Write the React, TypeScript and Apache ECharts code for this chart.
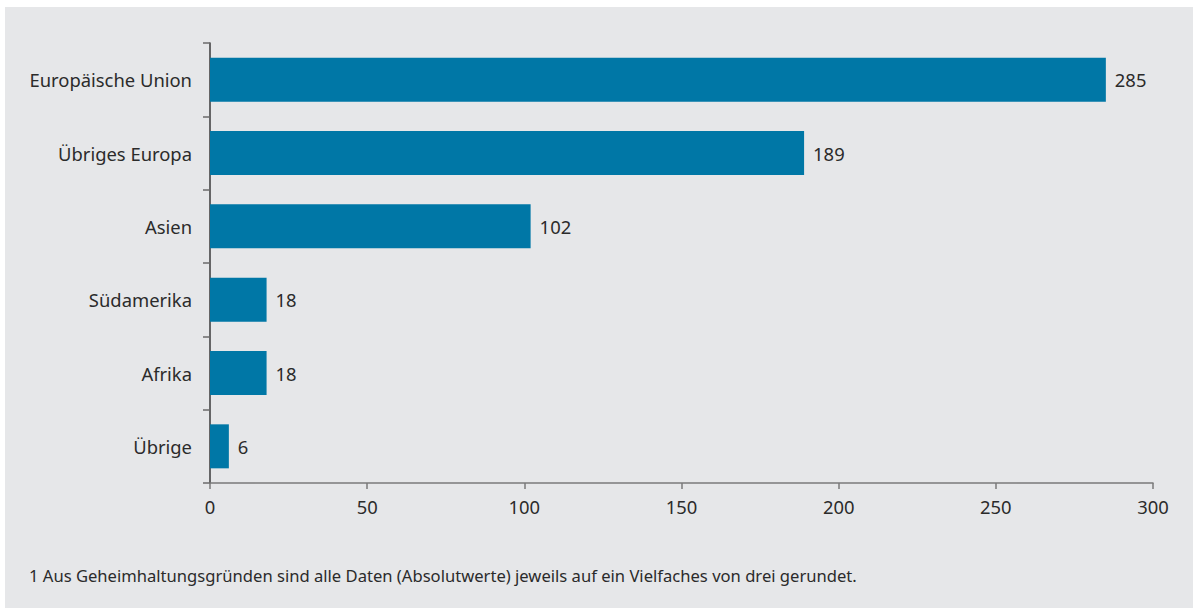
import React, { useEffect, useRef } from "react";
import * as echarts from "echarts";

const categories = ["Europäische Union", "Übriges Europa", "Asien", "Südamerika", "Afrika", "Übrige"];
const values = [285, 189, 102, 18, 18, 6];
const xTicks = { min: 0, max: 300, interval: 50 };
const footnote = "1 Aus Geheimhaltungsgründen sind alle Daten (Absolutwerte) jeweils auf ein Vielfaches von drei gerundet.";

const FONT = "Noto Sans";

export default function App() {
  const ref = useRef<HTMLDivElement>(null);
  useEffect(() => {
    if (!ref.current) return;
    const chart = echarts.init(ref.current, null, { renderer: "svg" });
    chart.setOption({
      animation: false,
      backgroundColor: "#ffffff",
      textStyle: { fontFamily: FONT },
      graphic: [
        { type: "rect", z: -10, silent: true, shape: { x: 5, y: 7, width: 1188, height: 601 }, style: { fill: "#e6e7e9" } },
        { type: "text", left: 29, top: 567, style: { text: footnote, font: `16.6px "${FONT}"`, fill: "#2b2b2b" } },
      ],
      grid: { left: 210, top: 43, right: 40, bottom: 125, containLabel: false },
      xAxis: {
        type: "value",
        min: xTicks.min,
        max: xTicks.max,
        interval: xTicks.interval,
        splitLine: { show: false },
        axisLine: { show: true, lineStyle: { color: "#7a7a7a", width: 1.5 } },
        axisTick: { show: true, length: 6, lineStyle: { color: "#7a7a7a", width: 1.5 } },
        axisLabel: { fontSize: 18.4, color: "#2b2b2b", margin: 14, fontFamily: FONT },
      },
      yAxis: {
        type: "category",
        inverse: true,
        data: categories,
        axisLine: { show: true, lineStyle: { color: "#3a3a3a", width: 1.5 } },
        axisTick: { show: true, length: 7, lineStyle: { color: "#6a6a6a", width: 1.5 } },
        axisLabel: { fontSize: 18.4, color: "#2b2b2b", margin: 18, fontFamily: FONT },
      },
      series: [
        {
          type: "bar",
          data: values,
          barCategoryGap: "40%",
          itemStyle: { color: "#0077a6" },
          label: { show: true, position: "right", distance: 9, fontSize: 18.4, color: "#2b2b2b", fontFamily: FONT },
        },
      ],
    });
    return () => chart.dispose();
  }, []);
  return <div ref={ref} style={{ position: "absolute", left: 0, top: 0, width: 1193, height: 608 }} />;
}
